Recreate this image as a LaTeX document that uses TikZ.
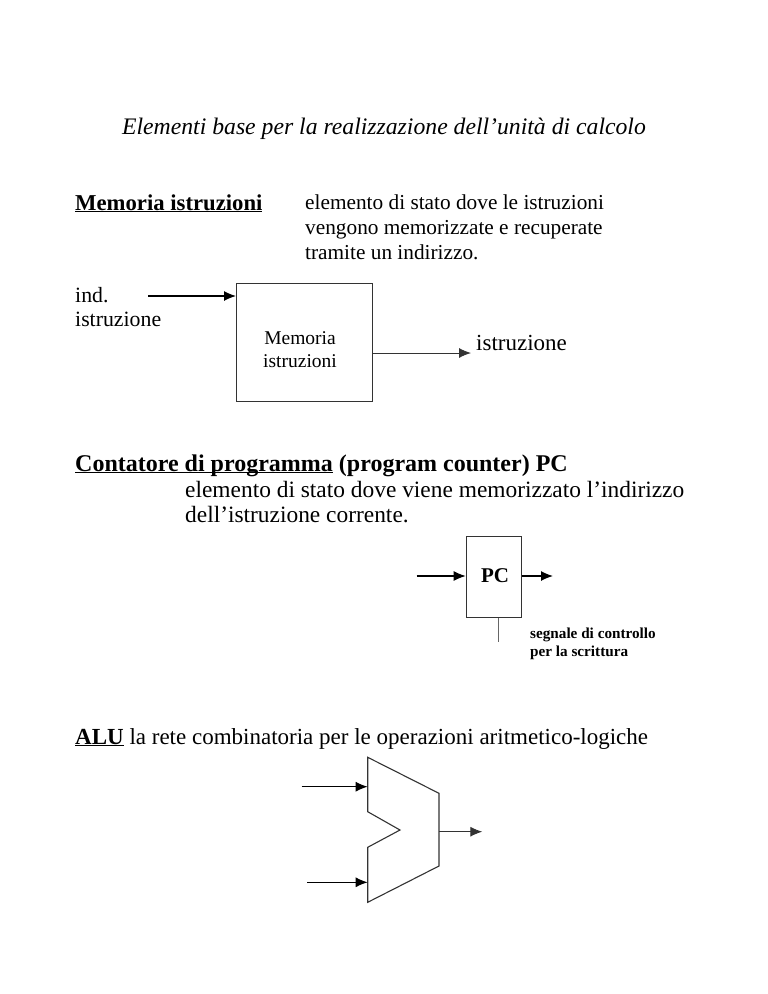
\documentclass[tikz,border=0pt]{standalone}
\usepackage{fontspec}
\setmainfont{Liberation Serif}
\usetikzlibrary{arrows.meta}
\newcommand{\fsz}[1]{\fontsize{#1}{1.2\dimexpr #1pt\relax}\selectfont}
\newcommand{\myul}[1]{\underline{\smash{#1}}}
\begin{document}
\begin{tikzpicture}[x=1pt,y=-1pt,
  txt/.style={inner sep=0pt,anchor=base west},
  boxsh/.style={draw=black!80,line width=1.1pt},
  wire/.style={line width=1.2pt,-{Latex[length=12pt,width=10pt]}},
  thin wire/.style={draw=black!80,line width=0.9pt,-{Latex[length=12pt,width=10pt]}}]
\useasboundingbox (0,0) rectangle (768,994);
% title
\node[inner sep=0pt,anchor=base,font=\fsz{23.7}\itshape] (title) at (384,134) {Elementi base per la realizzazione dell’unità di calcolo};
% memoria istruzioni section
\node[txt,font=\fsz{22.7}\bfseries] (memh) at (75,210) {\myul{Memoria istruzioni}};
\node[txt,font=\fsz{21.3}] (md1) at (305,209) {elemento di stato dove le istruzioni};
\node[txt,font=\fsz{21.3}] (md2) at (305,234) {vengono memorizzate e recuperate};
\node[txt,font=\fsz{21.3}] (md3) at (305,259) {tramite un indirizzo.};
\node[txt,font=\fsz{21.8}] (ind1) at (75,302) {ind.};
\node[txt,font=\fsz{21.8}] (ind2) at (75,326) {istruzione};
\node[boxsh,minimum width=136pt,minimum height=118pt,anchor=north west,inner sep=0pt] (mem) at (236,283) {};
\node[txt,anchor=base,font=\fsz{19.5}] (memt1) at (300,344) {Memoria};
\node[txt,anchor=base,font=\fsz{19.5}] (memt2) at (300,367) {istruzioni};
\coordinate (inA) at (148,296);
\draw[wire] (inA) -- (inA -| mem.west);
\coordinate (outA) at (471,353);
\draw[thin wire] (mem.east |- outA) -- (outA);
\node[txt,font=\fsz{23}] (istr) at (476,350) {istruzione};
% PC section
\node[txt,font=\fsz{24}\bfseries] (pch) at (75,471) {\myul{Contatore di programma} (program counter) PC};
\node[txt,font=\fsz{23.4}] (pd1) at (185,497) {elemento di stato dove viene memorizzato l’indirizzo};
\node[txt,font=\fsz{23.4}] (pd2) at (185,522) {dell’istruzione corrente.};
\node[boxsh,minimum width=55pt,minimum height=81pt,anchor=north west,inner sep=0pt] (pc) at (465.7,535.7) {};
\node[inner sep=0pt,anchor=base,font=\fsz{21}\bfseries] (pct) at (495,582) {PC};
\coordinate (pcin) at (416.7,576);
\coordinate (pcout) at (553,576);
\draw[wire] (pcin) -- (pcin -| pc.west);
\draw[wire] (pc.east |- pcout) -- (pcout);
\coordinate (pcctl) at (498,641.7);
\draw[draw=black!60,line width=0.9pt] (pcctl |- pc.south) -- (pcctl);
\node[txt,font=\fsz{15.2}\bfseries] (sig1) at (530,638) {segnale di controllo};
\node[txt,font=\fsz{15.2}\bfseries] (sig2) at (530,656) {per la scrittura};
% ALU section
\node[txt,font=\fsz{23}] (aluh) at (75,744) {\textbf{\myul{ALU}} la rete combinatoria per le operazioni aritmetico-logiche};
\coordinate (a1) at (367.7,757.3);
\coordinate (a2) at (439,793.3);
\coordinate (a3) at (439,866);
\coordinate (a4) at (367.7,902.3);
\coordinate (a5) at (367.7,847.3);
\coordinate (a6) at (400,830);
\coordinate (a7) at (367.7,811.7);
\draw[boxsh,line join=miter] (a1) -- (a2) -- (a3) -- (a4) -- (a5) -- (a6) -- (a7) -- cycle;
\coordinate (ain1) at (301.7,786.7);
\coordinate (ain2) at (307.3,882.3);
\coordinate (aout) at (482.3,831.7);
\draw[wire] (ain1) -- (ain1 -| a1);
\draw[wire] (ain2) -- (ain2 -| a4);
\draw[thin wire] (aout -| a2) -- (aout);
\end{tikzpicture}
\end{document}
